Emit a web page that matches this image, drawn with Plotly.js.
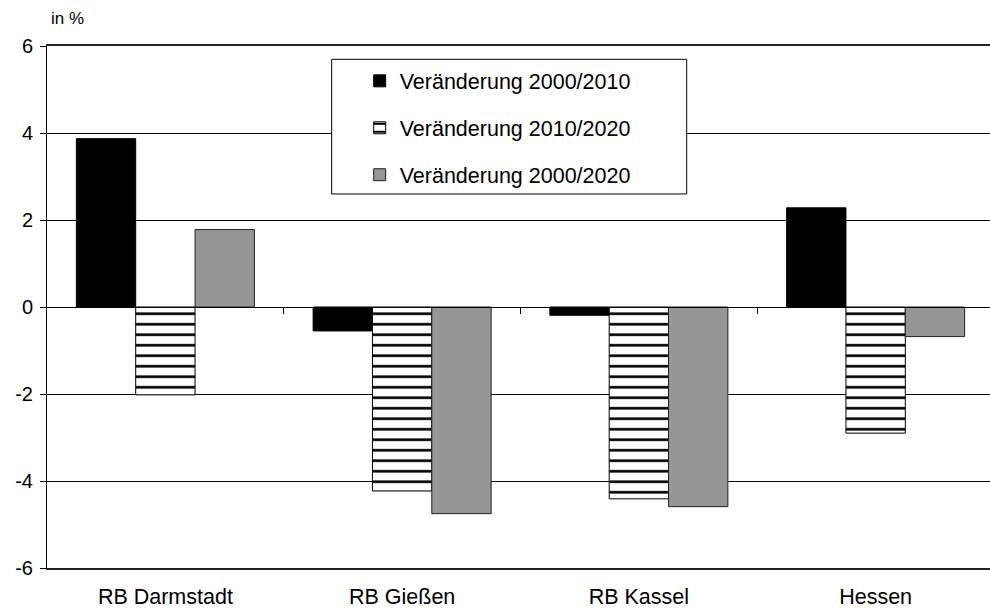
<!DOCTYPE html>
<html>
<head>
<meta charset="utf-8">
<script src="https://cdn.plot.ly/plotly-3.0.1.min.js"></script>
<style>
  html, body { margin: 0; padding: 0; overflow: hidden; background: #fff; }
  #chart { width: 996px; height: 611px; }
</style>
</head>
<body>
<div id="chart"></div>
<script>
// Regions of Hessen
const categories = ['RB Darmstadt', 'RB Gießen', 'RB Kassel', 'Hessen'];

// Change in percent
const change2000_2010 = [3.87, -0.55, -0.19, 2.28];
const change2010_2020 = [-2.02, -4.23, -4.41, -2.90];
const change2000_2020 = [1.78, -4.75, -4.59, -0.68];

const seriesNames = ['Veränderung 2000/2010', 'Veränderung 2010/2020', 'Veränderung 2000/2020'];
const yTicks = [-6, -4, -2, 0, 2, 4, 6];
const yTickLabels = ['-6', '-4', '-2', '0', '2', '4', '6'];

const FONT = 'Liberation Sans, Arial, sans-serif';

const traces = [
  {
    type: 'bar', name: seriesNames[0], x: categories, y: change2000_2010,
    legendgroup: 'a',
    marker: { color: '#000000', line: { color: '#000000', width: 1 } }
  },
  {
    type: 'bar', name: seriesNames[1], x: categories, y: change2010_2020,
    legendgroup: 'b',
    marker: {
      color: '#ffffff',
      line: { color: '#000000', width: 1 },
      pattern: { shape: '-', fgcolor: '#000000', bgcolor: '#ffffff', size: 10.5, solidity: 0.25 }
    }
  },
  {
    type: 'bar', name: seriesNames[2], x: categories, y: change2000_2020,
    legendgroup: 'c',
    marker: { color: '#969696', line: { color: '#222222', width: 1 } }
  },
  // carries the category axis that crosses at zero (draws nothing itself)
  {
    type: 'scatter', mode: 'none', x: categories, y: change2000_2010,
    xaxis: 'x2', yaxis: 'y', showlegend: false, hoverinfo: 'skip'
  }
];

const layout = {
  width: 996, height: 611,
  margin: { l: 47, r: 2, t: 46, b: 43 },
  paper_bgcolor: '#ffffff', plot_bgcolor: '#ffffff',
  font: { family: FONT, color: '#000000', size: 20 },
  barmode: 'group', bargap: 0.248, bargroupgap: 0,
  showlegend: true,
  legend: {
    x: 0.3006, y: 0.9725, xanchor: 'left', yanchor: 'top',
    bgcolor: 'rgba(0,0,0,0)', borderwidth: 0,
    font: { family: FONT, size: 21.5, color: '#000000' },
    traceorder: 'grouped', tracegroupgap: 16,
    indentation: 28
  },
  // legend frame
  shapes: [
    {
      type: 'rect', xref: 'paper', yref: 'paper',
      x0: 0.3006, x1: 0.6755, y0: 0.7165, y1: 0.9745,
      fillcolor: '#ffffff', line: { color: '#000000', width: 1 }, layer: 'above'
    }
  ],
  xaxis: {
    type: 'category',
    showgrid: false, zeroline: false,
    showline: true, linecolor: '#222222', linewidth: 2, mirror: true,
    ticks: '', tickfont: { family: FONT, size: 21.5, color: '#000000' },
    ticklabelstandoff: 8,
    fixedrange: true
  },
  xaxis2: {
    type: 'category', overlaying: 'x', anchor: 'free', position: 0.5,
    range: [-0.5, categories.length - 0.5],
    showgrid: false, zeroline: false,
    showline: true, linecolor: '#000000', linewidth: 1,
    ticks: 'outside', ticklen: 6, tickcolor: '#000000', tickwidth: 1,
    tickvals: categories.slice(1).map((_, i) => i + 0.5),
    showticklabels: false,
    fixedrange: true
  },
  yaxis: {
    range: [-6, 6], tickvals: yTicks, ticktext: yTickLabels,
    showgrid: true, gridcolor: '#000000', gridwidth: 1,
    zeroline: true, zerolinecolor: '#000000', zerolinewidth: 1,
    showline: true, linecolor: '#000000', linewidth: 1,
    ticks: 'outside', ticklen: 6, tickcolor: '#000000',
    tickfont: { family: FONT, size: 20, color: '#000000' },
    ticklabelstandoff: 3,
    fixedrange: true
  },
  annotations: [
    {
      text: 'in %', xref: 'paper', yref: 'paper', x: 0, y: 1.0536,
      xanchor: 'left', yanchor: 'middle', xshift: 2, showarrow: false,
      font: { family: FONT, size: 17, color: '#000000' }
    }
  ]
};

Plotly.newPlot('chart', traces, layout, { displayModeBar: false, staticPlot: true });
</script>
</body>
</html>
